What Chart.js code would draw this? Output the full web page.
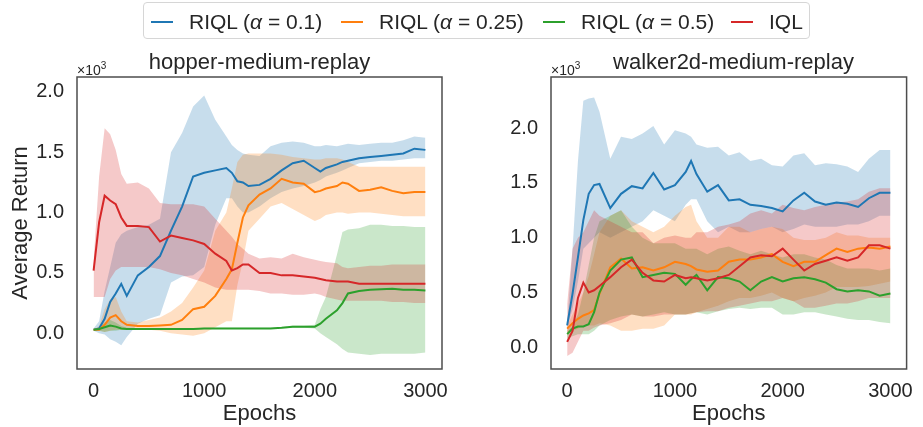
<!DOCTYPE html>
<html>
<head>
<meta charset="utf-8">
<script src="https://cdn.jsdelivr.net/npm/chart.js@4.4.0/dist/chart.umd.min.js"></script>
<style>
    body { margin: 0; background: #fff; font-family: "Liberation Sans", Arial, sans-serif; color: #262626; }
    #wrap { position: relative; width: 923px; height: 427px; overflow: hidden; }
    canvas { position: absolute; top: 0; }
    .abs { position: absolute; white-space: nowrap; }
    .title { font-size: 22px; line-height: 26px; text-align: center; width: 365px; top: 49px; }
    .offset { font-size: 14px; line-height: 18px; top: 57px; }
    .offset sup { font-size: 10px; }
    #legend { left: 143px; top: 2px; width: 665px; height: 35px; border: 1px solid #d6d6d6; border-radius: 4px; }
    .swatch { position: absolute; top: 18px; width: 22px; height: 2px; }
    .ltext { position: absolute; top: 7px; font-size: 21px; line-height: 24px; white-space: nowrap; }
</style>
</head>
<body>
<div id="wrap">
    <canvas id="chartHopper" width="460" height="427" style="left:0"></canvas>
    <canvas id="chartWalker" width="463" height="427" style="left:460px"></canvas>

    <div class="abs title" style="left:77px">hopper-medium-replay</div>
    <div class="abs title" style="left:551px">walker2d-medium-replay</div>
    <div class="abs offset" style="left:77px">×10<sup>3</sup></div>
    <div class="abs offset" style="left:551px">×10<sup>3</sup></div>

    <div class="abs" id="legend">
        <div class="swatch" style="left:7px;background:#1f77b4"></div>
        <div class="ltext" style="left:45px">RIQL (<i>α</i> = 0.1)</div>
        <div class="swatch" style="left:197px;background:#ff7f0e"></div>
        <div class="ltext" style="left:235px">RIQL (<i>α</i> = 0.25)</div>
        <div class="swatch" style="left:399px;background:#2ca02c"></div>
        <div class="ltext" style="left:437px">RIQL (<i>α</i> = 0.5)</div>
        <div class="swatch" style="left:587px;background:#d62728"></div>
        <div class="ltext" style="left:625px">IQL</div>
    </div>
</div>

<script>
// tick labels
var xTicks = [0, 1000, 2000, 3000];
var xTickLabels = ['0', '1000', '2000', '3000'];
var yTicks = [0, 0.5, 1, 1.5, 2];
var yTickLabels = ['0.0', '0.5', '1.0', '1.5', '2.0'];

// hopper-medium-replay (values x10^3)
var epochsHopper = [0, 50, 100, 150, 200, 250, 300, 400, 500, 600, 700, 800, 900, 1000, 1100, 1200, 1250, 1300, 1350, 1400, 1500, 1600, 1700, 1800, 1900, 2000, 2050, 2100, 2200, 2250, 2300, 2400, 2500, 2600, 2700, 2800, 2900, 3000];

var hopperA01 = [0.03, 0.04, 0.12, 0.26, 0.33, 0.41, 0.31, 0.48, 0.55, 0.64, 0.85, 1.05, 1.30, 1.33, 1.35, 1.37, 1.33, 1.26, 1.25, 1.22, 1.23, 1.28, 1.35, 1.41, 1.43, 1.37, 1.34, 1.37, 1.40, 1.42, 1.43, 1.45, 1.46, 1.47, 1.48, 1.49, 1.53, 1.52];
var hopperA01Hi = [0.04, 0.1, 0.35, 0.55, 0.75, 0.82, 0.85, 0.88, 0.9, 0.95, 1.5, 1.66, 1.88, 1.97, 1.77, 1.63, 1.56, 1.52, 1.49, 1.48, 1.47, 1.55, 1.58, 1.59, 1.58, 1.55, 1.55, 1.56, 1.55, 1.56, 1.57, 1.56, 1.57, 1.58, 1.58, 1.60, 1.63, 1.62];
var hopperA01Lo = [0.02, 0.0, -0.01, -0.05, -0.07, -0.10, -0.03, 0.08, 0.12, 0.15, 0.42, 0.47, 0.48, 0.55, 0.9, 1.12, 1.12, 1.05, 1.0, 1.0, 1.05, 1.12, 1.17, 1.2, 1.22, 1.25, 1.27, 1.3, 1.33, 1.35, 1.37, 1.41, 1.42, 1.43, 1.43, 1.44, 1.45, 1.45];

var hopperA025 = [0.03, 0.03, 0.07, 0.13, 0.15, 0.10, 0.07, 0.06, 0.06, 0.065, 0.07, 0.11, 0.20, 0.22, 0.31, 0.45, 0.53, 0.75, 0.96, 1.06, 1.15, 1.20, 1.28, 1.25, 1.24, 1.17, 1.18, 1.20, 1.22, 1.25, 1.24, 1.18, 1.19, 1.21, 1.18, 1.16, 1.17, 1.17];
var hopperA025Hi = [0.03, 0.06, 0.2, 0.28, 0.30, 0.18, 0.1, 0.09, 0.11, 0.13, 0.18, 0.25, 0.38, 0.52, 0.85, 1.0, 1.2, 1.42, 1.48, 1.49, 1.49, 1.49, 1.48, 1.46, 1.45, 1.44, 1.44, 1.45, 1.45, 1.44, 1.42, 1.38, 1.38, 1.38, 1.38, 1.38, 1.38, 1.38];
var hopperA025Lo = [0.03, 0.02, 0.01, 0.02, 0.03, 0.03, 0.03, 0.03, 0.03, 0.02, 0.0, -0.01, -0.02, 0.0, 0.05, 0.1, 0.1, 0.4, 0.6, 0.85, 0.95, 1.05, 1.08, 1.03, 0.98, 0.93, 0.95, 0.98, 1.0, 1.0, 0.99, 1.0, 1.0, 0.99, 0.98, 0.97, 0.97, 0.97];

var hopperA05 = [0.03, 0.035, 0.05, 0.065, 0.055, 0.04, 0.035, 0.035, 0.035, 0.035, 0.035, 0.035, 0.035, 0.04, 0.04, 0.04, 0.04, 0.04, 0.04, 0.04, 0.04, 0.04, 0.045, 0.055, 0.055, 0.055, 0.08, 0.12, 0.19, 0.25, 0.33, 0.35, 0.36, 0.365, 0.37, 0.36, 0.36, 0.355];
var hopperA05Hi = [0.03, 0.05, 0.09, 0.11, 0.09, 0.06, 0.045, 0.04, 0.04, 0.04, 0.04, 0.04, 0.04, 0.045, 0.045, 0.045, 0.045, 0.045, 0.045, 0.045, 0.045, 0.045, 0.05, 0.065, 0.065, 0.07, 0.2, 0.3, 0.65, 0.84, 0.86, 0.87, 0.9, 0.9, 0.89, 0.89, 0.88, 0.88];
var hopperA05Lo = [0.03, 0.02, 0.01, 0.02, 0.02, 0.03, 0.03, 0.03, 0.03, 0.03, 0.03, 0.03, 0.03, 0.035, 0.035, 0.035, 0.035, 0.035, 0.035, 0.035, 0.035, 0.035, 0.04, 0.045, 0.045, 0.04, 0.0, -0.03, -0.09, -0.13, -0.16, -0.17, -0.18, -0.17, -0.17, -0.17, -0.17, -0.16];

var hopperIQL = [0.52, 0.92, 1.14, 1.10, 1.07, 0.96, 0.89, 0.89, 0.88, 0.76, 0.81, 0.79, 0.77, 0.74, 0.66, 0.60, 0.52, 0.54, 0.57, 0.57, 0.50, 0.50, 0.48, 0.48, 0.47, 0.46, 0.45, 0.44, 0.43, 0.43, 0.43, 0.41, 0.41, 0.41, 0.41, 0.41, 0.41, 0.41];
var hopperIQLHi = [0.6, 1.3, 1.70, 1.65, 1.52, 1.32, 1.24, 1.25, 1.2, 1.08, 1.07, 1.07, 1.07, 1.05, 0.95, 0.85, 0.8, 0.74, 0.7, 0.66, 0.62, 0.63, 0.62, 0.66, 0.63, 0.61, 0.6, 0.59, 0.58, 0.55, 0.54, 0.55, 0.56, 0.56, 0.57, 0.57, 0.57, 0.57];
var hopperIQLLo = [0.3, 0.3, 0.3, 0.45, 0.52, 0.55, 0.55, 0.55, 0.55, 0.53, 0.5, 0.48, 0.45, 0.42, 0.38, 0.36, 0.36, 0.36, 0.36, 0.36, 0.35, 0.33, 0.33, 0.32, 0.32, 0.33, 0.32, 0.30, 0.28, 0.27, 0.27, 0.27, 0.27, 0.27, 0.26, 0.26, 0.25, 0.25];

// walker2d-medium-replay (values x10^3)
var epochsWalker = [0, 50, 100, 150, 200, 250, 300, 400, 500, 600, 700, 800, 900, 1000, 1100, 1150, 1200, 1300, 1400, 1500, 1600, 1700, 1800, 1900, 2000, 2100, 2200, 2300, 2400, 2500, 2600, 2700, 2800, 2900, 3000];

var walkerA01 = [0.20, 0.49, 0.82, 1.16, 1.40, 1.48, 1.49, 1.27, 1.40, 1.47, 1.45, 1.59, 1.44, 1.48, 1.60, 1.70, 1.58, 1.42, 1.48, 1.34, 1.35, 1.30, 1.29, 1.27, 1.24, 1.34, 1.41, 1.33, 1.30, 1.32, 1.31, 1.28, 1.36, 1.41, 1.41];
var walkerA01Hi = [0.22, 0.9, 1.7, 2.25, 2.27, 2.28, 2.15, 1.72, 1.92, 1.9, 1.95, 2.02, 1.85, 1.98, 1.95, 1.92, 1.85, 1.82, 1.83, 1.75, 1.78, 1.70, 1.72, 1.66, 1.65, 1.75, 1.77, 1.66, 1.68, 1.67, 1.65, 1.60, 1.72, 1.80, 1.80];
var walkerA01Lo = [0.18, 0.35, 0.6, 0.9, 0.95, 1.0, 1.05, 1.0, 1.05, 1.1, 1.15, 1.25, 1.2, 1.15, 1.3, 1.35, 1.35, 1.15, 1.05, 1.1, 1.05, 1.05, 1.08, 1.1, 1.05, 1.08, 1.12, 1.1, 1.1, 1.1, 1.12, 1.12, 1.15, 1.2, 1.2];

var walkerA025 = [0.17, 0.22, 0.26, 0.29, 0.31, 0.34, 0.49, 0.73, 0.81, 0.72, 0.73, 0.70, 0.73, 0.78, 0.76, 0.74, 0.71, 0.69, 0.70, 0.78, 0.80, 0.80, 0.82, 0.85, 0.78, 0.74, 0.78, 0.78, 0.84, 0.90, 0.87, 0.90, 0.91, 0.90, 0.92];
var walkerA025Hi = [0.2, 0.3, 0.4, 0.5, 0.65, 0.85, 1.05, 1.2, 1.25, 1.15, 1.1, 1.05, 1.1, 1.2, 1.28, 1.3, 1.15, 1.0, 1.0, 1.1, 1.1, 1.05, 1.08, 1.1, 1.08, 1.0, 0.98, 0.98, 1.0, 1.05, 1.02, 1.02, 1.0, 1.0, 1.0];
var walkerA025Lo = [0.13, 0.15, 0.17, 0.2, 0.2, 0.2, 0.22, 0.2, 0.15, 0.15, 0.17, 0.17, 0.2, 0.3, 0.3, 0.3, 0.32, 0.35, 0.38, 0.42, 0.45, 0.45, 0.47, 0.5, 0.45, 0.42, 0.45, 0.47, 0.5, 0.55, 0.55, 0.55, 0.56, 0.58, 0.6];

var walkerA05 = [0.12, 0.17, 0.19, 0.19, 0.21, 0.32, 0.50, 0.70, 0.80, 0.82, 0.64, 0.66, 0.68, 0.67, 0.57, 0.62, 0.66, 0.52, 0.64, 0.63, 0.60, 0.52, 0.60, 0.64, 0.60, 0.63, 0.64, 0.62, 0.59, 0.53, 0.51, 0.52, 0.51, 0.47, 0.49];
var walkerA05Hi = [0.15, 0.2, 0.3, 0.5, 0.75, 1.0, 1.15, 1.2, 1.25, 1.1, 1.0, 0.95, 0.95, 0.95, 0.9, 0.9, 0.9, 0.85, 0.9, 0.92, 0.88, 0.85, 0.88, 0.85, 0.82, 0.85, 0.85, 0.82, 0.8, 0.75, 0.72, 0.72, 0.72, 0.7, 0.72];
var walkerA05Lo = [0.08, 0.1, 0.12, 0.12, 0.12, 0.15, 0.2, 0.25, 0.28, 0.3, 0.28, 0.3, 0.32, 0.3, 0.3, 0.31, 0.32, 0.3, 0.33, 0.35, 0.36, 0.35, 0.36, 0.36, 0.3, 0.3, 0.32, 0.32, 0.3, 0.28, 0.26, 0.25, 0.25, 0.23, 0.22];

var walkerIQL = [0.05, 0.15, 0.45, 0.59, 0.50, 0.52, 0.56, 0.64, 0.73, 0.80, 0.68, 0.61, 0.60, 0.66, 0.63, 0.64, 0.63, 0.61, 0.63, 0.66, 0.74, 0.82, 0.84, 0.83, 0.90, 0.80, 0.70, 0.76, 0.79, 0.82, 0.79, 0.82, 0.93, 0.93, 0.90];
var walkerIQLHi = [0.4, 0.9, 1.0, 1.05, 1.15, 1.25, 1.2, 1.15, 1.1, 1.05, 1.05, 0.95, 1.0, 1.02, 1.0, 1.0, 1.05, 1.05, 1.1, 1.12, 1.15, 1.22, 1.25, 1.22, 1.3, 1.27, 1.25, 1.28, 1.3, 1.32, 1.33, 1.35, 1.42, 1.45, 1.45];
var walkerIQLLo = [-0.08, -0.05, 0.05, 0.15, 0.15, 0.18, 0.2, 0.22, 0.25, 0.3, 0.28, 0.28, 0.3, 0.3, 0.3, 0.31, 0.32, 0.33, 0.33, 0.36, 0.38, 0.40, 0.42, 0.42, 0.45, 0.42, 0.36, 0.36, 0.38, 0.40, 0.40, 0.42, 0.45, 0.45, 0.45];

var colors = { blue: '#1f77b4', orange: '#ff7f0e', green: '#2ca02c', red: '#d62728' };
var bandColors = { blue: 'rgba(31,119,180,0.25)', orange: 'rgba(255,127,14,0.25)', green: 'rgba(44,160,44,0.25)', red: 'rgba(214,39,40,0.25)' };
var fontFamily = '"Liberation Sans", Arial, sans-serif';
var textColor = '#262626';

function points(epochs, values) {
    return epochs.map(function (e, i) { return { x: e, y: values[i] }; });
}

// series listed red first so it ends up on top (Chart.js draws index 0 last)
function buildDatasets(epochs, series) {
    var lines = [];
    var bands = [];
    series.forEach(function (s) {
        lines.push({
            data: points(epochs, s.mean),
            borderColor: colors[s.color],
            borderWidth: 2,
            pointRadius: 0,
            fill: false
        });
        bands.push({
            data: points(epochs, s.hi),
            borderColor: 'rgba(0,0,0,0)',
            borderWidth: 0,
            pointRadius: 0,
            backgroundColor: bandColors[s.color],
            fill: '+1'
        });
        bands.push({
            data: points(epochs, s.lo),
            borderColor: 'rgba(0,0,0,0)',
            borderWidth: 0,
            pointRadius: 0,
            fill: false
        });
    });
    return lines.concat(bands);
}

var framePlugin = {
    id: 'frame',
    afterDraw: function (chart) {
        var a = chart.chartArea;
        var ctx = chart.ctx;
        ctx.save();
        ctx.strokeStyle = '#4d4d4d';
        ctx.lineWidth = 1.5;
        ctx.strokeRect(a.left, a.top, a.right - a.left, a.bottom - a.top);
        ctx.restore();
    }
};

function makeChart(id, epochs, series, cfg) {
    var ctx = document.getElementById(id).getContext('2d');
    return new Chart(ctx, {
        type: 'line',
        data: { datasets: buildDatasets(epochs, series) },
        options: {
            responsive: false,
            animation: false,
            devicePixelRatio: 1,
            layout: { padding: { left: 0, top: 77, right: cfg.padRight, bottom: 0 } },
            scales: {
                x: {
                    type: 'linear',
                    min: -150,
                    max: 3150,
                    grid: { display: false, drawTicks: false },
                    border: { display: false },
                    afterBuildTicks: function (scale) {
                        scale.ticks = xTicks.map(function (v) { return { value: v }; });
                    },
                    afterFit: function (scale) { scale.height = 58; },
                    ticks: {
                        padding: 10,
                        maxRotation: 0,
                        autoSkip: false,
                        color: textColor,
                        font: { size: 20, family: fontFamily },
                        callback: function (v, i) { return xTickLabels[i]; }
                    },
                    title: {
                        display: true,
                        text: 'Epochs',
                        color: textColor,
                        font: { size: 22, family: fontFamily },
                        padding: { top: 0, bottom: 0 }
                    }
                },
                y: {
                    type: 'linear',
                    min: cfg.yMin,
                    max: cfg.yMax,
                    grid: { display: false, drawTicks: false },
                    border: { display: false },
                    afterBuildTicks: function (scale) {
                        scale.ticks = yTicks.map(function (v) { return { value: v }; });
                    },
                    afterFit: function (scale) { scale.width = cfg.yWidth; },
                    ticks: {
                        padding: 13,
                        color: textColor,
                        font: { size: 20, family: fontFamily },
                        callback: function (v, i) { return yTickLabels[i]; }
                    },
                    title: {
                        display: cfg.yTitle !== '',
                        text: cfg.yTitle,
                        color: textColor,
                        font: { size: 22, family: fontFamily },
                        padding: { top: 8, bottom: 0 }
                    }
                }
            },
            plugins: {
                legend: { display: false },
                tooltip: { enabled: false },
                filler: { drawTime: 'beforeDatasetsDraw' }
            }
        },
        plugins: [framePlugin]
    });
}

makeChart('chartHopper', epochsHopper, [
    { mean: hopperIQL, hi: hopperIQLHi, lo: hopperIQLLo, color: 'red' },
    { mean: hopperA05, hi: hopperA05Hi, lo: hopperA05Lo, color: 'green' },
    { mean: hopperA025, hi: hopperA025Hi, lo: hopperA025Lo, color: 'orange' },
    { mean: hopperA01, hi: hopperA01Hi, lo: hopperA01Lo, color: 'blue' }
], { yMin: -0.296, yMax: 2.124, yWidth: 77, padRight: 18, yTitle: 'Average Return' });

makeChart('chartWalker', epochsWalker, [
    { mean: walkerIQL, hi: walkerIQLHi, lo: walkerIQLLo, color: 'red' },
    { mean: walkerA05, hi: walkerA05Hi, lo: walkerA05Lo, color: 'green' },
    { mean: walkerA025, hi: walkerA025Hi, lo: walkerA025Lo, color: 'orange' },
    { mean: walkerA01, hi: walkerA01Hi, lo: walkerA01Lo, color: 'blue' }
], { yMin: -0.198, yMax: 2.466, yWidth: 91, padRight: 7, yTitle: '' });
</script>
</body>
</html>
